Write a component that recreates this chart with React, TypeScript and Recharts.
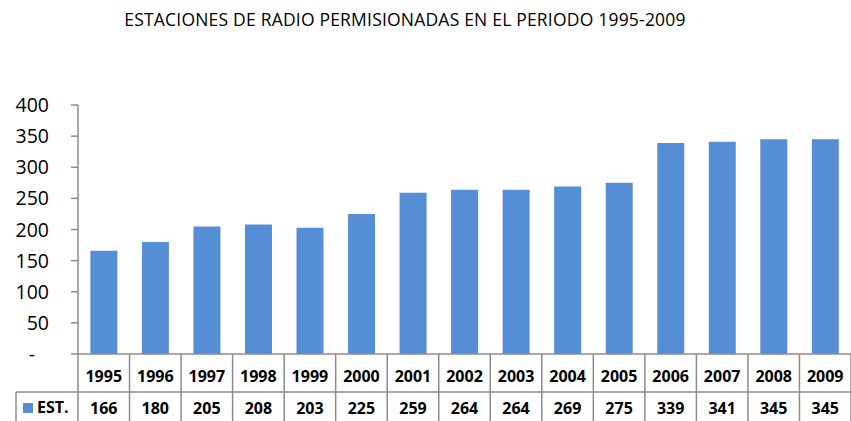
import { BarChart, Bar, XAxis, YAxis } from "recharts";

const years = ["1995", "1996", "1997", "1998", "1999", "2000", "2001", "2002", "2003", "2004", "2005", "2006", "2007", "2008", "2009"];
const stations = [166, 180, 205, 208, 203, 225, 259, 264, 264, 269, 275, 339, 341, 345, 345];
const yTicks = [0, 50, 100, 150, 200, 250, 300, 350, 400];
const seriesName = "EST.";
const title = "ESTACIONES DE RADIO PERMISIONADAS EN EL PERIODO 1995-2009";

const BLUE = "#558ed5";
const GRID = "#8c8c8c";
const FONT = "'Open Sans', sans-serif";

const data = years.map((y, i) => ({ year: y, est: stations[i] }));

function YTick(props: any) {
  const { x, y, payload } = props;
  const zero = payload.value === 0;
  return (
    <text
      x={zero ? x - 14 : x}
      y={y}
      dy={7}
      textAnchor="end"
      fontFamily={FONT}
      fontSize={19.5}
      fill="#000"
    >
      {zero ? "-" : payload.value}
    </text>
  );
}

// draws one column of the data table under the axis
function TableTick(props: any) {
  const { x, y, payload, index } = props;
  const half = payload.offset || 25.75;
  const left = x - half;
  const right = x + half;
  const rowSplit = y + 38;
  const bottom = y + 70;
  return (
    <g>
      <line x1={left} y1={y} x2={left} y2={bottom} stroke={GRID} strokeWidth={1.5} />
      {index === years.length - 1 && (
        <line x1={right} y1={y} x2={right} y2={bottom} stroke={GRID} strokeWidth={1.5} />
      )}
      <line x1={left} y1={rowSplit} x2={right} y2={rowSplit} stroke={GRID} strokeWidth={1.5} />
      <text x={x} y={y + 28} textAnchor="middle" fontFamily={FONT} fontWeight="bold" fontSize={16} fill="#000">
        {payload.value}
      </text>
      <text x={x} y={y + 60} textAnchor="middle" fontFamily={FONT} fontWeight="bold" fontSize={16} fill="#000">
        {stations[index]}
      </text>
      {index === 0 && (
        <g>
          <line x1={16} y1={rowSplit} x2={left} y2={rowSplit} stroke={GRID} strokeWidth={1.5} />
          <line x1={16} y1={rowSplit} x2={16} y2={bottom} stroke={GRID} strokeWidth={1.5} />
          <rect x={23} y={y + 49} width={10} height={10} fill={BLUE} />
          <text x={37} y={y + 59} fontFamily={FONT} fontWeight="bold" fontSize={16} fill="#000">
            {seriesName}
          </text>
        </g>
      )}
    </g>
  );
}

export default function App() {
  return (
    <div style={{ position: "absolute", left: 0, top: 0, width: 851, height: 421, background: "#fff" }}>
      <div
        style={{
          position: "absolute",
          left: 0,
          width: 810,
          top: 7,
          textAlign: "center",
          fontFamily: FONT,
          fontSize: 17.5,
          letterSpacing: 0.2,
          color: "#000",
        }}
      >
        {title}
      </div>
      <BarChart
        width={851}
        height={421}
        data={data}
        margin={{ top: 105, right: 0, bottom: 0, left: 0 }}
        barCategoryGap="24%"
      >
        <XAxis
          dataKey="year"
          interval={0}
          height={67}
          tickSize={0}
          tickMargin={0}
          tickLine={false}
          axisLine={{ stroke: GRID, strokeWidth: 1.5 }}
          tick={<TableTick />}
        />
        <YAxis
          width={78}
          domain={[0, 400]}
          ticks={yTicks}
          tickSize={7}
          tickMargin={22}
          axisLine={{ stroke: GRID, strokeWidth: 1.5 }}
          tickLine={{ stroke: GRID, strokeWidth: 1.5 }}
          tick={<YTick />}
        />
        <Bar dataKey="est" fill={BLUE} isAnimationActive={false} />
      </BarChart>
    </div>
  );
}
